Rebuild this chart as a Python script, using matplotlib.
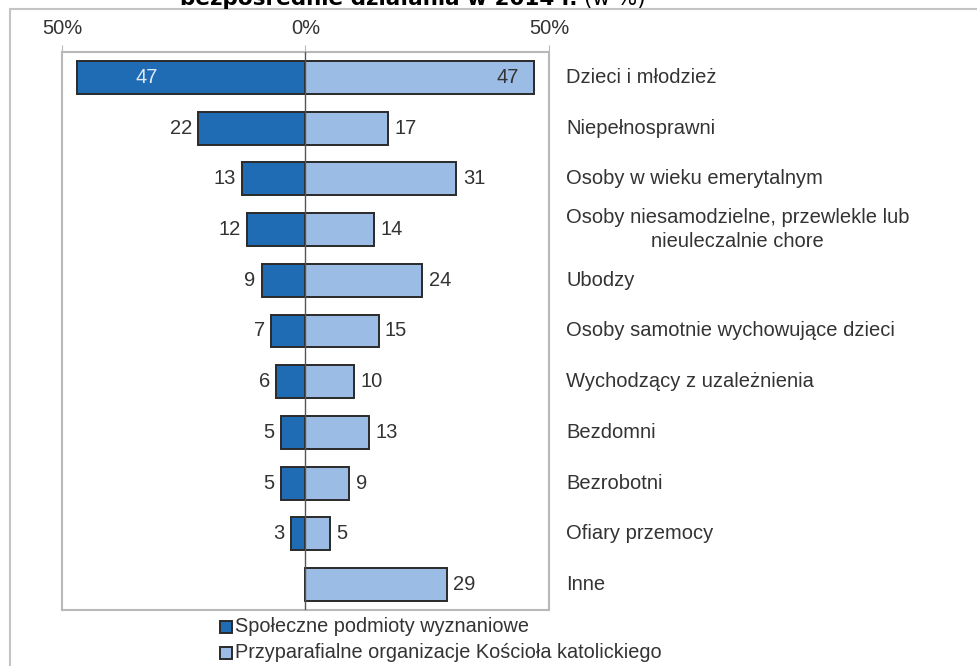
import matplotlib.pyplot as plt
from matplotlib.patches import Rectangle

plt.rcParams['font.family'] = ['Liberation Sans', 'DejaVu Sans']

categories = ['Dzieci i młodzież', 'Niepełnosprawni', 'Osoby w wieku emerytalnym',
              'Osoby niesamodzielne, przewlekle lub\nnieuleczalnie chore', 'Ubodzy',
              'Osoby samotnie wychowujące dzieci', 'Wychodzący z uzależnienia',
              'Bezdomni', 'Bezrobotni', 'Ofiary przemocy', 'Inne']
spoleczne = [47, 22, 13, 12, 9, 7, 6, 5, 5, 3, 0]
przyparafialne = [47, 17, 31, 14, 24, 15, 10, 13, 9, 5, 29]
series_names = ['Społeczne podmioty wyznaniowe',
                'Przyparafialne organizacje Kościoła katolickiego']

dark = '#1f6bb4'
light = '#9bbce5'
edge = '#2a2a2a'
grid = '#b8b8b8'
txt = '#333333'

W, H = 978, 666
fig = plt.figure(figsize=(W / 100, H / 100), dpi=100)

# outer frame
fig.patches.append(Rectangle((10 / W, -0.1), 1.1, 1 - 8.5 / H + 0.1, transform=fig.transFigure,
                             fill=False, edgecolor='#c4c4c4', linewidth=1.5))

ax = fig.add_axes([62 / W, 1 - 610 / H, (549 - 62) / W, (610 - 52) / H])
y = list(range(len(categories)))

left_vals = [-v for v in spoleczne]
ax.barh(y, left_vals, height=0.65, color=dark, edgecolor=edge, linewidth=1.4, zorder=3)
ax.barh(y, przyparafialne, height=0.65, color=light, edgecolor=edge, linewidth=1.4, zorder=3)
ax.axvline(0, color='#555555', linewidth=1, zorder=4)

fs = 14.5
for i, (a, b) in enumerate(zip(spoleczne, przyparafialne)):
    if a > 0:
        if a > 40:
            ax.text(-a + 12, i, str(a), ha='left', va='center', fontsize=fs, color='#dfe8f5', zorder=5)
        else:
            ax.text(-a - 1.3, i, str(a), ha='right', va='center', fontsize=fs, color=txt, zorder=5)
    if b > 40:
        ax.text(b - 3.2, i, str(b), ha='right', va='center', fontsize=fs, color=txt, zorder=5)
    else:
        ax.text(b + 1.3, i, str(b), ha='left', va='center', fontsize=fs, color=txt, zorder=5)
    ax.text(53.5, i, categories[i], ha='left', va='center', fontsize=fs, color=txt,
            multialignment='center', linespacing=1.3)

ax.set_xlim(-50, 50)
ax.set_ylim(len(categories) - 0.5, -0.5)
ax.xaxis.tick_top()
ax.set_xticks([-50, 0, 50])
ax.set_xticklabels(['50%', '0%', '50%'], fontsize=fs, color=txt)
ax.tick_params(axis='x', length=5, color=grid, pad=5)
ax.set_yticks([])
for s in ax.spines.values():
    s.set_color(grid)
    s.set_linewidth(1.5)
ax.grid(False)

# legend
for k, (name, col) in enumerate(zip(series_names, [dark, light])):
    yy = 1 - (627 + k * 26) / H
    fig.patches.append(Rectangle((220 / W, yy - 6 / H), 12 / W, 12 / H, transform=fig.transFigure,
                                 facecolor=col, edgecolor=edge, linewidth=1.4))
    fig.text(235 / W, yy, name, ha='left', va='center', fontsize=14.3, color=txt)

# title (cut at the top of the image, as in the source)
fig.text(578 / W, 1 - 5 / H, 'bezpośrednie działania w 2014 r.', ha='right', va='baseline',
         fontsize=15.5, fontweight='bold', family='DejaVu Sans', color='black')
fig.text(584 / W, 1 - 5 / H, '(w %)', ha='left', va='baseline',
         fontsize=15.5, family='DejaVu Sans', color='black')

fig.savefig('out.png', dpi=100)
